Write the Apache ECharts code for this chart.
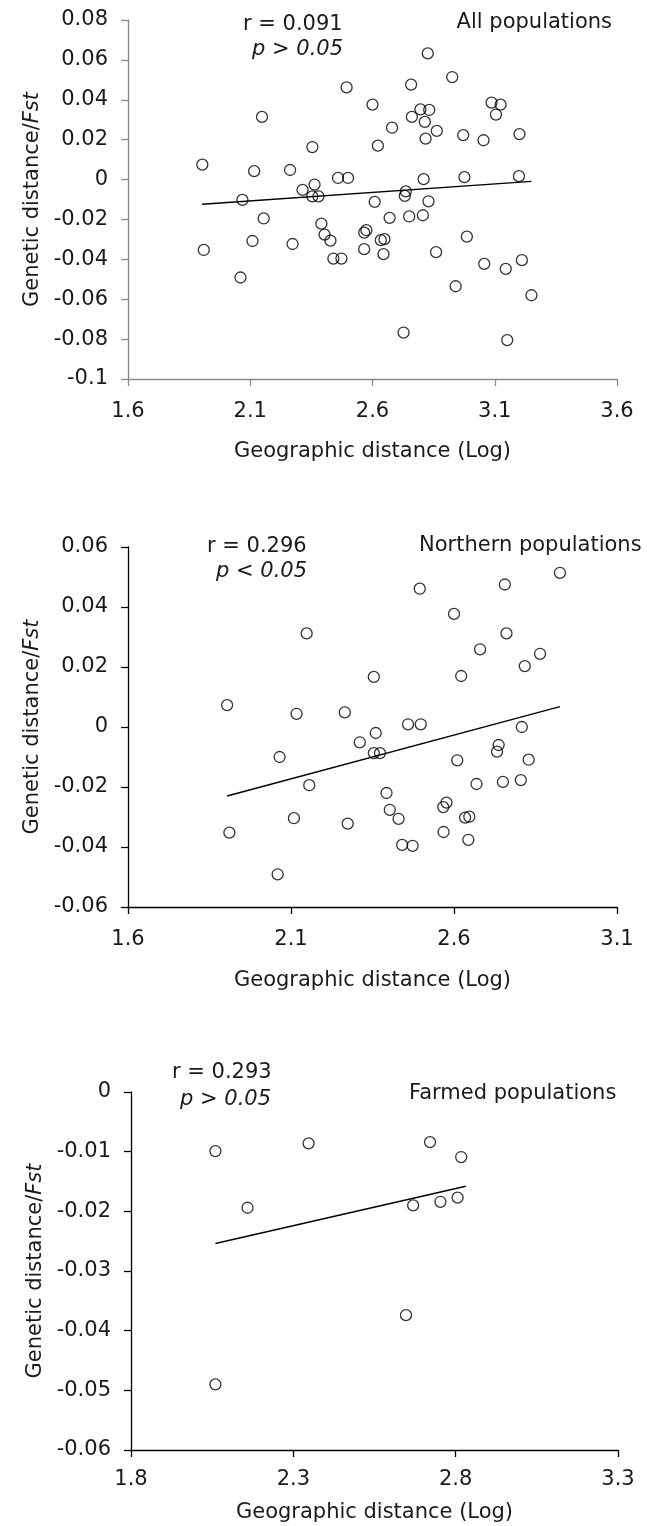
<!DOCTYPE html>
<html><head><meta charset="utf-8">
<script src="https://cdn.jsdelivr.net/npm/echarts/dist/echarts.min.js"></script>
<style>html,body{margin:0;padding:0;background:#fff}#c{width:647px;height:1526px}</style>
</head><body><div id="c"></div>
<script>
// ---- Panel 1: All populations ----
const allX = [2.494,2.148,2.354,1.904,2.116,2.263,2.459,2.500,2.826,2.926,2.758,2.600,3.087,3.124,3.105,2.796,2.832,2.761,2.814,2.680,2.863,2.622,2.817,2.971,3.054,3.201,2.809,2.976,3.199,2.363,2.314,2.354,2.379,2.068,2.155,2.391,2.404,2.109,2.428,1.910,2.273,2.440,2.473,2.566,2.575,2.566,2.060,2.609,2.736,2.732,2.829,2.670,2.750,2.806,2.634,2.649,2.645,2.986,2.860,3.057,3.145,3.211,2.940,3.250,2.727,3.151];
const allY = [0.0462,0.0314,0.0163,0.0075,0.0042,0.0048,0.0008,0.0008,0.0633,0.0514,0.0476,0.0376,0.0386,0.0376,0.0326,0.0352,0.0349,0.0314,0.0289,0.0260,0.0244,0.0170,0.0205,0.0223,0.0197,0.0228,0.0002,0.0012,0.0017,-0.0025,-0.0052,-0.0084,-0.0084,-0.0102,-0.0195,-0.0221,-0.0276,-0.0308,-0.0306,-0.0353,-0.0323,-0.0396,-0.0396,-0.0266,-0.0254,-0.0349,-0.0491,-0.0112,-0.0059,-0.0082,-0.0109,-0.0192,-0.0185,-0.0179,-0.0304,-0.0299,-0.0374,-0.0286,-0.0364,-0.0423,-0.0448,-0.0404,-0.0535,-0.0580,-0.0767,-0.0805];
const allTrendX = [1.903, 3.250];
const allTrendY = [-0.0124, -0.0009];
const allXTicks = [1.6, 2.1, 2.6, 3.1, 3.6];
const allYTicks = [-0.1, -0.08, -0.06, -0.04, -0.02, 0, 0.02, 0.04, 0.06, 0.08];

// ---- Panel 2: Northern populations ----
const northX = [2.148,2.495,2.756,2.925,2.600,2.761,2.680,2.864,2.817,2.354,1.904,2.117,2.265,2.360,2.311,2.354,2.373,2.065,2.156,2.109,2.274,1.911,2.059,2.622,2.459,2.498,2.808,2.737,2.732,2.610,2.829,2.669,2.750,2.805,2.393,2.403,2.430,2.577,2.567,2.634,2.647,2.568,2.644,2.441,2.473];
const northY = [0.0312,0.0461,0.0475,0.0514,0.0377,0.0312,0.0259,0.0244,0.0203,0.0167,0.0073,0.0044,0.0049,-0.0020,-0.0051,-0.0087,-0.0087,-0.0100,-0.0194,-0.0304,-0.0322,-0.0352,-0.0491,0.0170,0.0009,0.0009,0.0000,-0.0060,-0.0082,-0.0111,-0.0109,-0.0190,-0.0183,-0.0177,-0.0220,-0.0276,-0.0306,-0.0252,-0.0267,-0.0302,-0.0299,-0.0350,-0.0376,-0.0393,-0.0396];
const northTrendX = [1.904, 2.925];
const northTrendY = [-0.0230, 0.0068];
const northXTicks = [1.6, 2.1, 2.6, 3.1];
const northYTicks = [-0.06, -0.04, -0.02, 0, 0.02, 0.04, 0.06];

// ---- Panel 3: Farmed populations ----
const farmX = [2.060,2.347,2.721,2.817,2.159,2.669,2.753,2.806,2.647,2.060];
const farmY = [-0.0099,-0.0086,-0.0084,-0.0109,-0.0194,-0.0190,-0.0184,-0.0177,-0.0374,-0.0490];
const farmTrendX = [2.060, 2.831];
const farmTrendY = [-0.0254, -0.0158];
const farmXTicks = [1.8, 2.3, 2.8, 3.3];
const farmYTicks = [-0.06, -0.05, -0.04, -0.03, -0.02, -0.01, 0];

const FONT = 'DejaVu Sans';
const FS = 21;
const TXT = '#1a1a1a';

function zip(xs, ys) { return xs.map((x, i) => [x, ys[i]]); }
function fmtY(v) { return String(parseFloat(v.toFixed(3))); }
function fmtX(v) { return v.toFixed(1); }

const grids = [
  { left: 128, top: 20, width: 489, height: 359 },
  { left: 128, top: 547, width: 489, height: 360 },
  { left: 131, top: 1092, width: 487, height: 358 }
];
const axisColors = ['#8a8a8a', '#000', '#000'];
const xTickSets = [allXTicks, northXTicks, farmXTicks];
const yTickSets = [allYTicks, northYTicks, farmYTicks];
const xNameGaps = [62, 63, 52];
const xLabelMargins = [22, 22, 19];

const xAxes = xTickSets.map((t, i) => ({
  type: 'value', gridIndex: i,
  min: t[0], max: t[t.length - 1], interval: +(t[1] - t[0]).toFixed(3),
  name: 'Geographic distance (Log)', nameLocation: 'middle', nameGap: xNameGaps[i],
  nameTextStyle: { fontFamily: FONT, fontSize: FS, color: TXT },
  axisLine: { onZero: false, lineStyle: { color: axisColors[i], width: 1.3 } },
  axisTick: { show: true, inside: false, length: 7, lineStyle: { color: axisColors[i], width: 1.3 } },
  axisLabel: { formatter: fmtX, fontFamily: FONT, fontSize: FS, color: TXT, margin: xLabelMargins[i] },
  splitLine: { show: false }
}));

const yAxes = yTickSets.map((t, i) => ({
  type: 'value', gridIndex: i,
  min: t[0], max: t[t.length - 1], interval: +(t[1] - t[0]).toFixed(3),
  name: '{a|Genetic distance/}{b|Fst}', nameLocation: 'middle', nameGap: 84, nameRotate: 90,
  nameTextStyle: { fontFamily: FONT, fontSize: FS, color: TXT,
    rich: { a: { fontFamily: FONT, fontSize: FS, color: TXT }, b: { fontFamily: FONT, fontSize: FS, color: TXT, fontStyle: 'italic' } } },
  axisLine: { show: true, onZero: false, lineStyle: { color: axisColors[i], width: 1.3 } },
  axisTick: { show: true, inside: false, length: 7, lineStyle: { color: axisColors[i], width: 1.3 } },
  axisLabel: { formatter: fmtY, fontFamily: FONT, fontSize: FS, color: TXT, margin: 20 },
  splitLine: { show: false }
}));

const pts = [zip(allX, allY), zip(northX, northY), zip(farmX, farmY)];
const trends = [zip(allTrendX, allTrendY), zip(northTrendX, northTrendY), zip(farmTrendX, farmTrendY)];

const series = [];
for (let i = 0; i < 3; i++) {
  series.push({
    type: 'line', xAxisIndex: i, yAxisIndex: i, data: trends[i], symbol: 'none',
    lineStyle: { color: '#000', width: 1.4 }, silent: true, animation: false, z: 2
  });
  series.push({
    type: 'scatter', xAxisIndex: i, yAxisIndex: i, data: pts[i], symbol: 'circle', symbolSize: 11,
    itemStyle: { color: 'rgba(0,0,0,0)', borderColor: '#000', borderWidth: 1.3 },
    animation: false, z: 3
  });
}

function txt(x, y, s, italic, align) {
  return { type: 'text', x: x, y: y, z: 10,
    style: { text: s, fill: TXT, font: (italic ? 'italic ' : '') + FS + 'px "' + FONT + '"',
      align: align || 'left', textAlign: align || 'left', verticalAlign: 'middle', textVerticalAlign: 'middle' } };
}

const graphics = [
  txt(243, 25, 'r = 0.091'), txt(252, 50, 'p > 0.05', true), txt(612, 23, 'All populations', false, 'right'),
  txt(207, 547, 'r = 0.296'), txt(216, 572, 'p < 0.05', true), txt(419, 546, 'Northern populations'),
  txt(172, 1073, 'r = 0.293'), txt(180, 1100, 'p > 0.05', true), txt(409, 1094, 'Farmed populations')
];

const chart = echarts.init(document.getElementById('c'), null, { renderer: 'canvas' });
chart.setOption({
  animation: false,
  backgroundColor: '#fff',
  grid: grids,
  xAxis: xAxes,
  yAxis: yAxes,
  series: series,
  graphic: graphics
});
</script>
</body></html>
